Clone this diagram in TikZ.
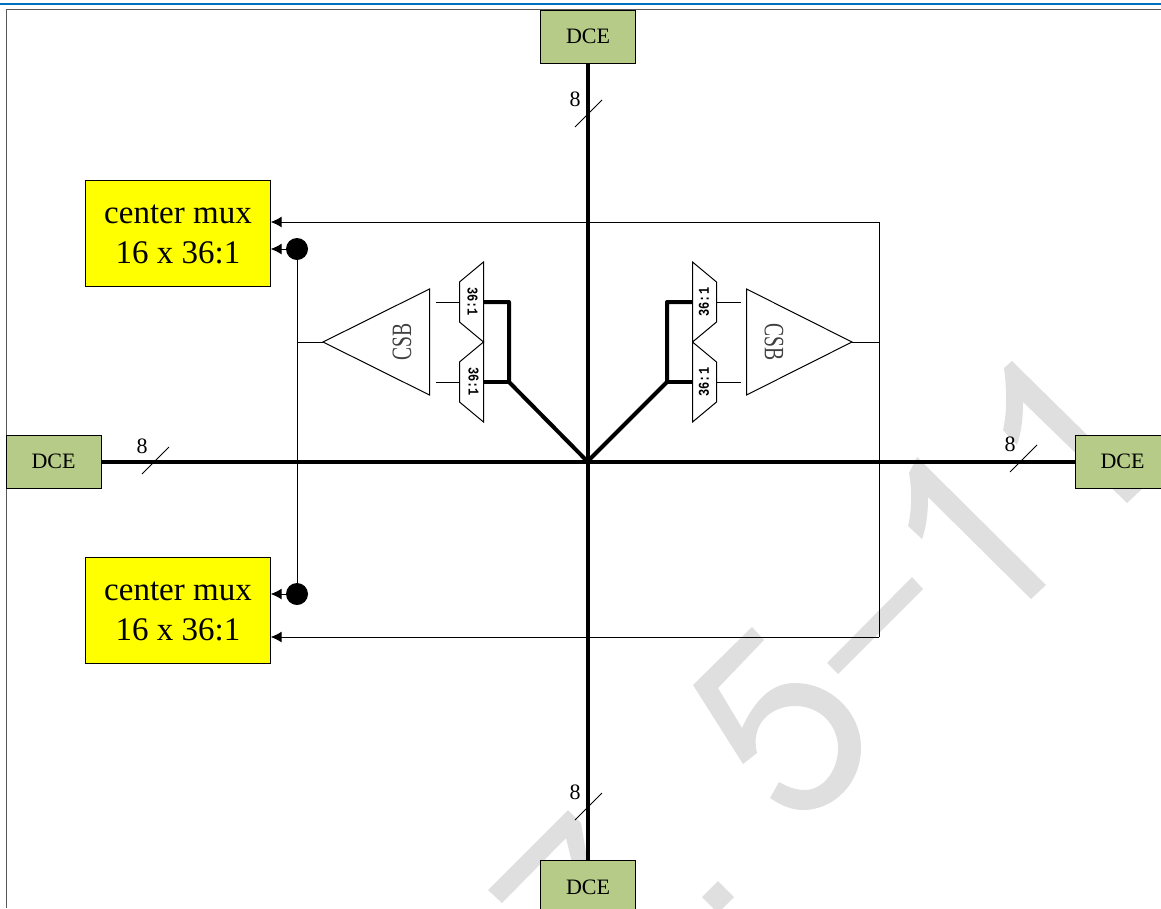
\documentclass[tikz,border=0pt]{standalone}
\usepackage{fontspec}
\setmainfont{Liberation Serif}
\setmonofont{Liberation Mono}
\usetikzlibrary{arrows.meta}
\definecolor{dcegreen}{HTML}{B5CB87}
\definecolor{rulingblue}{HTML}{0070C0}
\definecolor{markgray}{HTML}{DFDFDF}
\definecolor{muxyellow}{HTML}{FFFF00}
\tikzset{
  dcebox/.style={draw, fill=dcegreen, minimum width=95pt, minimum height=53pt, inner sep=0pt, font=\fontsize{22}{24}\selectfont},
  muxbox/.style={draw, fill=muxyellow, minimum width=185pt, minimum height=106pt, inner sep=0pt, align=center, font=\fontsize{33}{40}\selectfont},
  bus/.style={line width=4pt, line join=round},
  wire/.style={line width=1pt},
  feed/.style={line width=1pt, -{Latex[length=11pt,width=11pt]}},
  dotnode/.style={circle, fill, inner sep=0pt, minimum size=22pt},
  buswidth/.style={font=\fontsize{22}{24}\selectfont, inner sep=0pt},
  ratio/.style={font=\fontsize{15}{15}\ttfamily\bfseries, inner sep=0pt},
  csblabel/.style={font=\fontsize{28}{28}\selectfont, text=black!75, inner sep=0pt}
}
\begin{document}
\begin{tikzpicture}[x=1pt, y=-1pt]
\clip [use as bounding box] (0, 0) rectangle (1161, 908);

% background mark
\fill [markgray] (488, 890) -- (568, 810) -- (581, 823) -- (590, 875) -- (575, 875) -- (566, 838) -- (502, 903) -- cycle;
\fill [markgray] (718, 881) -- (734, 897) -- (718, 913) -- (702, 897) -- cycle;
\fill [markgray] (752, 627) -- (693, 685) -- (743, 764) -- (757, 753) .. controls (750, 725) and (770, 706) .. (795, 706) .. controls (820, 706) and (838, 725) .. (838, 748) .. controls (838, 772) and (822, 790) .. (805, 790) .. controls (796, 790) and (788, 787) .. (779, 782) -- (770, 798) .. controls (782, 806) and (792, 810) .. (803, 810) .. controls (835, 810) and (861, 782) .. (861, 748) .. controls (861, 712) and (830, 683) .. (795, 683) .. controls (775, 683) and (757, 695) .. (742, 728) -- (718, 688) -- (764, 640) -- cycle;
\fill [markgray] (912, 577) -- (923, 589) -- (838, 674) -- (827, 663) -- cycle;
\fill [markgray] (917, 457) -- (1046, 585) -- (1031, 599) -- (928, 497) .. controls (928, 515) and (926, 528) .. (922, 539) -- (908, 526) .. controls (912, 510) and (912, 490) .. (909, 473) -- cycle;
\fill [markgray] (1012, 361) -- (1142, 489) -- (1127, 503) -- (1023, 402) .. controls (1023, 420) and (1021, 433) .. (1017, 445) -- (1003, 430) .. controls (1007, 413) and (1007, 390) .. (1004, 368) -- cycle;

% page rule and frame
\fill [rulingblue] (0, 3) rectangle (1161, 5);
\draw [line width=1pt, black!65] (1161, 9.5) -- (6, 9.5) -- (6, 908);

% blocks
\node [muxbox, text depth=0pt] (muxA) at (178, 233) {\raisebox{-1.5pt}{center mux}\\\raisebox{-1.5pt}{16 x 36:1}};
\node [muxbox, text depth=0pt] (muxB) at (178, 610) {\raisebox{-1.5pt}{center mux}\\\raisebox{-1.5pt}{16 x 36:1}};
\node [dcebox] (dceN) at (588, 36.5) {DCE};
\node [dcebox] (dceS) at (588, 887) {DCE};
\node [dcebox] (dceW) at (53.5, 461.5) {DCE};
\node [dcebox] (dceE) at (1122.5, 461.5) {DCE};
\coordinate (hub) at (587.5, 461.5);

% left selectors and CSB
\draw [wire] (483.5, 262) -- (483.5, 342) -- (459.5, 322) -- (459.5, 282) -- cycle;
\draw [wire] (483.5, 342) -- (483.5, 422) -- (459.5, 402) -- (459.5, 362) -- cycle;
\node [ratio, rotate=-90, xscale=.8] (selA) at (472.5, 301.5) {36:1};
\node [ratio, rotate=-90, xscale=.8] (selB) at (473.5, 381.5) {36:1};
\draw [wire] (323, 342) -- (429.5, 289) -- (429.5, 395) -- cycle;
\node [csblabel, rotate=90, xscale=.7] (csbL) at (402, 342) {CSB};
\coordinate (selAin) at (459.5, 302);
\coordinate (selBin) at (459.5, 382);
\coordinate (selAout) at (483.5, 302);
\coordinate (selBout) at (483.5, 382);
\coordinate (csbLa) at (436, 302);
\coordinate (csbLb) at (436, 382);
\coordinate (csbLout) at (323, 342);
\coordinate (tapL) at (509, 382);
\coordinate (tapLtop) at (509, 302);
\draw [wire] (csbLa) -- (selAin);
\draw [wire] (csbLb) -- (selBin);

% right selectors and CSB
\draw [wire] (692.5, 262) -- (692.5, 342) -- (716.5, 322) -- (716.5, 282) -- cycle;
\draw [wire] (692.5, 342) -- (692.5, 422) -- (716.5, 402) -- (716.5, 362) -- cycle;
\node [ratio, rotate=90, xscale=.8] (selC) at (704, 302) {36:1};
\node [ratio, rotate=90, xscale=.8] (selD) at (704, 382) {36:1};
\draw [wire] (852, 342) -- (746.5, 289) -- (746.5, 395) -- cycle;
\node [csblabel, rotate=-90, xscale=.7] (csbR) at (774, 342) {CSB};
\coordinate (selCin) at (692.5, 302);
\coordinate (selDin) at (692.5, 382);
\coordinate (selCout) at (716.5, 302);
\coordinate (selDout) at (716.5, 382);
\coordinate (csbRa) at (741, 302);
\coordinate (csbRb) at (741, 382);
\coordinate (csbRout) at (852, 342);
\coordinate (tapR) at (667, 382);
\coordinate (tapRtop) at (667, 302);
\draw [wire] (selCout) -- (csbRa);
\draw [wire] (selDout) -- (csbRb);

% CSB outputs to the center muxes
\coordinate (feedR) at (879, 342);
\coordinate (feedRtop) at (879, 222);
\coordinate (feedRbot) at (879, 637);
\coordinate (feedL) at (297, 342);
\node [dotnode] (dotA) at (297, 249) {};
\node [dotnode] (dotB) at (297, 594) {};
\draw [wire] (csbRout) -- (feedR);
\draw [feed] (feedRbot) -- (feedRtop) -- (feedRtop -| muxA.east);
\draw [feed] (feedRbot) -- (feedRbot -| muxB.east);
\draw [wire] (csbLout) -- (feedL);
\draw [wire] (dotA) -- (dotB);
\draw [feed] (dotA) -- (dotA -| muxA.east);
\draw [feed] (dotB) -- (dotB -| muxB.east);

% buses
\draw [bus] (dceW.east) -- (dceE.west);
\draw [bus] (dceN.south -| hub) -- (dceS.north -| hub);
\draw [bus] (hub) -- (tapL) -- (tapLtop) -- (selAout);
\draw [bus] (tapL) -- (selBout);
\draw [bus] (hub) -- (tapR) -- (tapRtop) -- (selCin);
\draw [bus] (tapR) -- (selDin);

% bus width marks
\node [buswidth] (widthN) at (575, 99) {8};
\node [buswidth] (widthS) at (575, 792) {8};
\node [buswidth] (widthW) at (142, 446) {8};
\node [buswidth] (widthE) at (1010, 444) {8};
\draw [wire] (575, 127) -- (602, 100);
\draw [wire] (575, 820) -- (602, 793);
\draw [wire] (142, 474) -- (169, 447);
\draw [wire] (1010, 472) -- (1037, 445);
\end{tikzpicture}
\end{document}
